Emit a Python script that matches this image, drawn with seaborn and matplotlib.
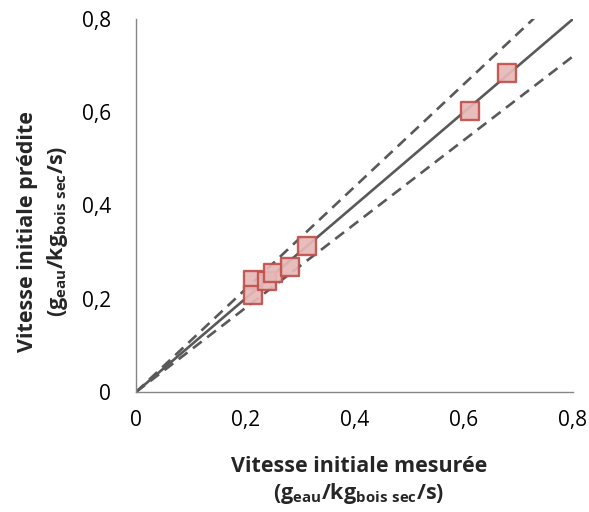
import matplotlib
matplotlib.use("Agg")
import matplotlib.pyplot as plt
import seaborn as sns
import numpy as np
import pandas as pd

# Data
measured = [0.215, 0.215, 0.239, 0.250, 0.282, 0.313, 0.612, 0.679]
predicted = [0.240, 0.207, 0.237, 0.256, 0.268, 0.313, 0.603, 0.684]
ref_slopes = [1.0, 1.1, 0.9]
ref_styles = ["solid", "dashed", "dashed"]
tick_values = [0, 0.2, 0.4, 0.6, 0.8]
tick_labels = ["0", "0,2", "0,4", "0,6", "0,8"]

sns.set_style("white")
plt.rcParams['font.family'] = ['Open Sans', 'DejaVu Sans']
plt.rcParams['mathtext.fontset'] = 'custom'
plt.rcParams['mathtext.rm'] = 'Open Sans:bold'
plt.rcParams['mathtext.it'] = 'Open Sans:bold'
plt.rcParams['mathtext.bf'] = 'Open Sans:bold'

fig = plt.figure(figsize=(5.89, 5.12), dpi=100)
ax = fig.add_axes([136/589, 1 - 392/512, (573-136)/589, (392-19)/512])

xlim = (0, 0.8)
xs = np.array(xlim)
for s, st in zip(ref_slopes, ref_styles):
    df = pd.DataFrame({"x": xs, "y": xs * s})
    sns.lineplot(data=df, x="x", y="y", ax=ax, color="#595959", lw=1.9, zorder=2)
    l = ax.lines[-1]
    if st == "dashed":
        l.set_dashes((4.2, 2.6))

df_pts = pd.DataFrame({"m": measured, "p": predicted})
sns.scatterplot(data=df_pts, x="m", y="p", ax=ax, marker="s", s=155,
                color="#E6B9B8", edgecolor="#C0504D", linewidth=1.7, alpha=0.92, zorder=3)

ax.set_xlim(*xlim)
ax.set_ylim(0, 0.8)
ax.set_xticks(tick_values)
ax.set_xticklabels(tick_labels)
ax.set_yticks(tick_values)
ax.set_yticklabels(tick_labels)
ax.tick_params(axis='both', direction='in', length=4, width=1, color="#868686",
               labelsize=15, labelcolor="black")
ax.tick_params(axis='x', pad=13)
ax.tick_params(axis='y', pad=18)

for side in ["top", "right"]:
    ax.spines[side].set_visible(False)
for side in ["left", "bottom"]:
    ax.spines[side].set_color("#868686")
    ax.spines[side].set_linewidth(1.0)

ax.set_xlabel("Vitesse initiale mesurée\n(g$_{\\mathrm{eau}}$/kg$_{\\mathrm{bois\\ sec}}$/s)",
              fontsize=15.5, fontweight='bold', linespacing=1.25)
ax.set_ylabel("Vitesse initiale prédite\n(g$_{\\mathrm{eau}}$/kg$_{\\mathrm{bois\\ sec}}$/s)",
              fontsize=15.5, fontweight='bold', linespacing=1.4)
ax.xaxis.set_label_coords(0.51, -0.171)
ax.yaxis.set_label_coords(-0.15, 0.43)

fig.savefig("out.png", dpi=100)
